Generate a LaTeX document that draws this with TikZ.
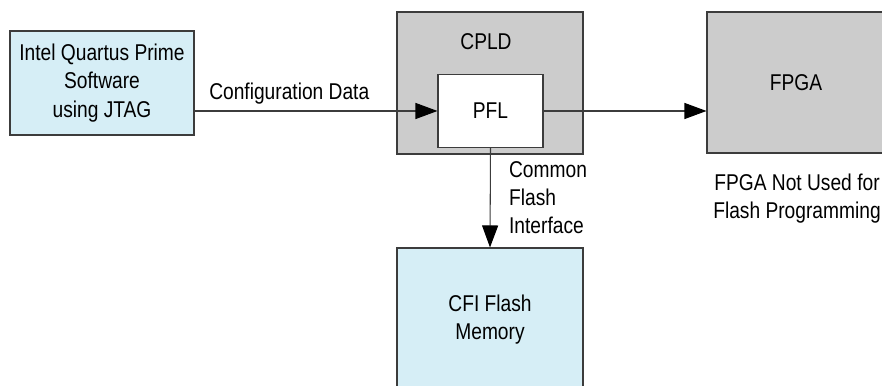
\documentclass[tikz,border=0pt]{standalone}
\usepackage{fontspec}
\setmainfont[FakeStretch=0.84]{Liberation Sans}
\usetikzlibrary{arrows.meta,positioning}
\definecolor{hostblue}{RGB}{214,238,246}
\definecolor{chipgray}{RGB}{204,204,204}
\definecolor{edgegray}{RGB}{60,60,60}

\begin{document}
\begin{tikzpicture}[
    font=\fontsize{13}{16}\selectfont,
    block/.style={rectangle, draw=edgegray, line width=0.6pt, align=center},
    host/.style={block, fill=hostblue},
    chip/.style={block, fill=chipgray},
    flow/.style={draw=edgegray, line width=0.6pt, -{Triangle[length=0.44cm,width=0.32cm,color=black]}}
]
\useasboundingbox (0,0) rectangle (17.64,7.72);

% Host software
\node[host, minimum width=3.68cm, minimum height=2.08cm] (quartus) at (2.04,6.06) {Intel Quartus Prime\\Software\\using JTAG};

% CPLD with PFL inside
\node[chip, minimum width=3.72cm, minimum height=2.84cm] (cpld) at (9.8,6.06) {};
\node (cpldlabel) at (9.72,6.88) {CPLD};
\node[block, fill=white, minimum width=2.1cm, minimum height=1.46cm] (pfl) at (9.81,5.5) {PFL};

% FPGA
\node[chip, minimum width=3.56cm, minimum height=2.82cm] (fpga) at (15.92,6.07) {FPGA};
\node[align=center] (fpganote) at (15.94,3.74) {FPGA Not Used for\\Flash Programming};

% CFI flash
\node[host, minimum width=3.72cm, minimum height=2.88cm] (cfi) at (9.8,1.32) {CFI Flash\\Memory};

% Connections
\draw[flow] (quartus.east |- pfl.west) -- node[above, pos=0.39] (cfglabel) {Configuration Data} (pfl.west);
\draw[flow] (pfl.east) -- (pfl.east -| fpga.west);
\draw[flow] (pfl.south) -- node[right, xshift=0.25cm, align=left] (cfilabel) {Common\\Flash\\Interface} (cfi.north);

\end{tikzpicture}
\end{document}
